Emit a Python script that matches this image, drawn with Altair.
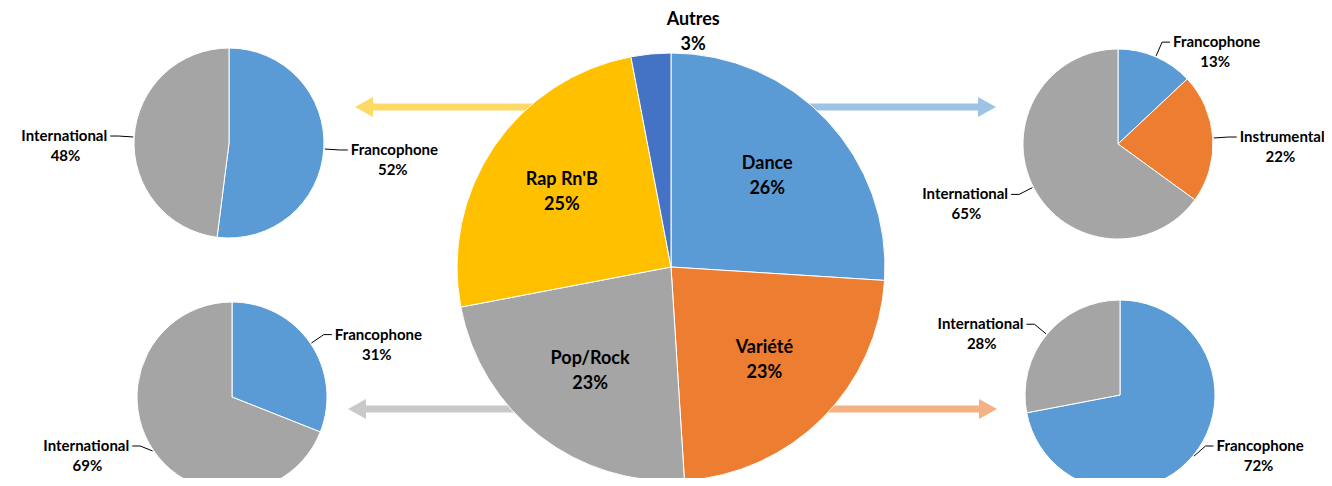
import math
import altair as alt
import pandas as pd

# ---------------- data ----------------
genres = ["Dance", "Variété", "Pop/Rock", "Rap Rn'B", "Autres"]
genre_share = [26, 23, 23, 25, 3]

dance_cats = ["Francophone", "Instrumental", "International"]
dance_share = [13, 22, 65]
rap_cats = ["Francophone", "International"]
rap_share = [52, 48]
pop_cats = ["Francophone", "International"]
pop_share = [31, 69]
variete_cats = ["Francophone", "International"]
variete_share = [72, 28]

# ---------------- colours ----------------
cat_domain = genres + ["Francophone", "Instrumental", "International"]
cat_colors = ["#5B9BD5", "#ED7D31", "#A5A5A5", "#FFC000", "#4472C4",
              "#5B9BD5", "#ED7D31", "#A5A5A5"]
color_scale = alt.Scale(domain=cat_domain, range=cat_colors)

# ---------------- layout (page pixels) ----------------
OFF = 8
W, H = 1316, 470
CX, CY, CR = 671, 267, 214
SMALL = {
    "dance": (1118, 144, 95),
    "rap": (229, 143, 95),
    "pop": (232, 397, 95),
    "variete": (1120, 395, 95),
}
E, HSEG, GAP, LH, YMAX = 16, 8, 3, 20, 446
FONT = "Lato"
SMALL_FS, BIG_FS, BIG_LH = 15, 18, 25
# rough glyph widths (px) of the label font, used only to centre the % line
NARROW, MID, WIDE = set("Iilt"), set("rfsc"), set("mM")


def text_width(s):
    return sum(4.3 if ch in NARROW else 6.0 if ch in MID else 12 if ch in WIDE else 8.0 for ch in s)


arrows = pd.DataFrame({
    "y": [107, 107, 409, 409],
    "tip": [355, 996, 348, 997],
    "col": ["#FFD966", "#9DC3E6", "#C9C9C9", "#F4B183"],
})
HEAD_LEN = 18


def arc_layer(df, cx, cy, r):
    return alt.Chart(df).mark_arc(radius=r, stroke="white", strokeWidth=1).encode(
        theta=alt.Theta("share:Q", stack=True),
        order=alt.Order("idx:Q"),
        color=alt.Color("cat:N", scale=color_scale, legend=None),
        x=alt.value(cx - OFF),
        y=alt.value(cy - OFF),
    )


layers = []

# arrows (under the pies)
arrows["dir"] = [1 if t > CX else -1 for t in arrows["tip"]]
arrows["x1"] = CX - OFF
arrows["xb"] = arrows["tip"] - arrows["dir"] * (HEAD_LEN - 1) - OFF
arrows["yy"] = arrows["y"] - OFF
arrows["hx"] = arrows["tip"] - arrows["dir"] * HEAD_LEN / 2 - OFF
arrows["ang"] = [0 if d > 0 else 180 for d in arrows["dir"]]

layers.append(alt.Chart(arrows).mark_rule(strokeWidth=7).encode(
    x=alt.X("x1:Q", scale=None, axis=None),
    x2="xb:Q",
    y=alt.Y("yy:Q", scale=None, axis=None),
    color=alt.Color("col:N", scale=None),
))
layers.append(alt.Chart(arrows).mark_point(
    shape="M0.9,0L-0.9,-1L-0.9,1Z", filled=True, size=400, opacity=1, strokeWidth=0
).encode(
    x=alt.X("hx:Q", scale=None, axis=None),
    y=alt.Y("yy:Q", scale=None, axis=None),
    angle=alt.Angle("ang:Q", scale=None),
    color=alt.Color("col:N", scale=None),
))

# central pie
central = pd.DataFrame({"cat": genres, "share": genre_share, "idx": range(len(genres))})
central["label"] = [f"{c}\n{v}%" for c, v in zip(genres, genre_share)]
layers.append(arc_layer(central, CX, CY, CR))
layers.append(alt.Chart(central).transform_calculate(
    rad="datum.share >= 5 ? 132 : 236"
).mark_text(
    font=FONT, fontWeight="bold", fontSize=BIG_FS, lineHeight=BIG_LH, lineBreak="\n",
    align="center", baseline="middle", color="black", dy=-BIG_LH / 2
).encode(
    theta=alt.Theta("share:Q", stack=True),
    order=alt.Order("idx:Q"),
    radius=alt.Radius("rad:Q", scale=None),
    text="label:N",
    x=alt.value(CX - OFF),
    y=alt.value(CY - OFF),
))

# small pies with leader lines
seg_rows, lab_rows = [], []
for key, cats, shares in [("dance", dance_cats, dance_share), ("rap", rap_cats, rap_share),
                          ("pop", pop_cats, pop_share), ("variete", variete_cats, variete_share)]:
    cx, cy, r = SMALL[key]
    df = pd.DataFrame({"cat": cats, "share": shares, "idx": range(len(cats))})
    layers.append(arc_layer(df, cx, cy, r))
    total = sum(shares)
    cum = 0
    for c, v in zip(cats, shares):
        mid = 2 * math.pi * (cum + v / 2) / total
        cum += v
        sx, sy = math.sin(mid), -math.cos(mid)
        ex, ey = cx + (r + 1) * sx, cy + (r + 1) * sy
        bx, by = cx + (r + E) * sx, min(cy + (r + E) * sy, YMAX)
        side = 1 if sx >= 0 else -1
        hx = bx + side * HSEG
        seg_rows.append(dict(x=ex - OFF, y=ey - OFF, x2=bx - OFF, y2=by - OFF))
        seg_rows.append(dict(x=bx - OFF, y=by - OFF, x2=hx - OFF, y2=by - OFF))
        w = text_width(c)
        lab_rows.append(dict(
            nx=hx + side * GAP - OFF, ny=by - OFF, name=c,
            align="left" if side > 0 else "right",
            px=hx + side * (GAP + w / 2) - OFF, py=by + LH - OFF, pct=f"{v}%",
        ))

segs = pd.DataFrame(seg_rows)
labs = pd.DataFrame(lab_rows)
layers.append(alt.Chart(segs).mark_rule(color="black", strokeWidth=1).encode(
    x=alt.X("x:Q", scale=None, axis=None), y=alt.Y("y:Q", scale=None, axis=None),
    x2="x2:Q", y2="y2:Q",
))
for al in ["left", "right"]:
    layers.append(alt.Chart(labs).transform_filter(f"datum.align == '{al}'").mark_text(
        font=FONT, fontWeight="bold", fontSize=SMALL_FS, align=al, baseline="middle", color="black"
    ).encode(
        x=alt.X("nx:Q", scale=None, axis=None), y=alt.Y("ny:Q", scale=None, axis=None),
        text="name:N",
    ))
layers.append(alt.Chart(labs).mark_text(
    font=FONT, fontWeight="bold", fontSize=SMALL_FS, align="center", baseline="middle", color="black"
).encode(
    x=alt.X("px:Q", scale=None, axis=None), y=alt.Y("py:Q", scale=None, axis=None),
    text="pct:N",
))

chart = alt.layer(*layers).properties(
    width=W, height=H, padding=0, autosize="none", background="white"
).configure_view(stroke=None)

chart.save("out.html", embed_options={"renderer": "svg", "actions": False})
